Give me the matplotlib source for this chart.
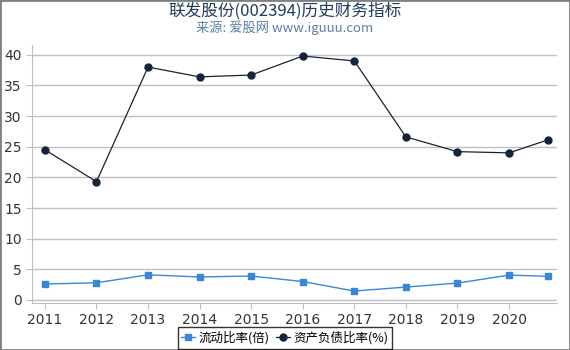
import matplotlib.pyplot as plt
from matplotlib.patches import Rectangle

plt.rcParams['font.family'] = ['DejaVu Sans', 'Noto Sans CJK SC']

years = [2011, 2012, 2013, 2014, 2015, 2016, 2017, 2018, 2019, 2020, 2020.75]
tick_years = [2011, 2012, 2013, 2014, 2015, 2016, 2017, 2018, 2019, 2020]
current_ratio = [2.6, 2.8, 4.1, 3.75, 3.9, 3.0, 1.45, 2.1, 2.75, 4.05, 3.85]
debt_ratio = [24.5, 19.3, 38.0, 36.4, 36.7, 39.8, 39.0, 26.6, 24.2, 24.0, 26.1]

fig = plt.figure(figsize=(5.7, 3.5), dpi=100)
ax = fig.add_axes([32 / 570, 1 - 303 / 350, 525 / 570, 258 / 350])

ax.plot(years, current_ratio, color='#3a87d8', marker='s', markersize=5,
        linewidth=1, label='流动比率(倍)')
ax.plot(years, debt_ratio, color='#15243a', marker='o', markersize=5,
        linewidth=0.9, label='资产负债比率(%)')

ax.set_xlim(2010.75, 2020.93)
ax.set_ylim(-0.5, 41.6)
ax.set_xticks(tick_years)
ax.set_xticklabels([str(y) for y in tick_years])
ax.set_yticks(range(0, 41, 5))
ax.yaxis.grid(True, color='#c0c0c0', linewidth=1)
ax.set_axisbelow(True)
for s in ['top', 'right']:
    ax.spines[s].set_visible(False)
for s in ['left', 'bottom']:
    ax.spines[s].set_color('#c0c0c0')
ax.tick_params(axis='both', colors='#c0c0c0', labelcolor='#333333',
               labelsize=10, length=4)

cjk = ['Noto Sans CJK SC', 'DejaVu Sans']
fig.text(0.5, 0.968, '联发股份(002394)历史财务指标', ha='center', va='center',
         fontsize=12, color='#1f3b5e', family=cjk)
fig.text(0.5, 0.92, '来源: 爱股网 www.iguuu.com', ha='center', va='center',
         fontsize=9.5, color='#5a7ea8', family=cjk)

leg = fig.legend(loc='center', bbox_to_anchor=(285 / 570, 1 - 338 / 350), ncol=2,
                 frameon=True, fancybox=False, handlelength=1.1,
                 handletextpad=0.3, columnspacing=0.5, borderpad=0.3,
                 borderaxespad=0, prop={'family': cjk, 'size': 9})
leg.get_frame().set_edgecolor('black')
leg.get_frame().set_linewidth(1)

fig.patches.append(Rectangle((0, 0), 1, 1, transform=fig.transFigure,
                             fill=False, edgecolor='#808080', linewidth=2))

fig.savefig('out.png', dpi=100)
